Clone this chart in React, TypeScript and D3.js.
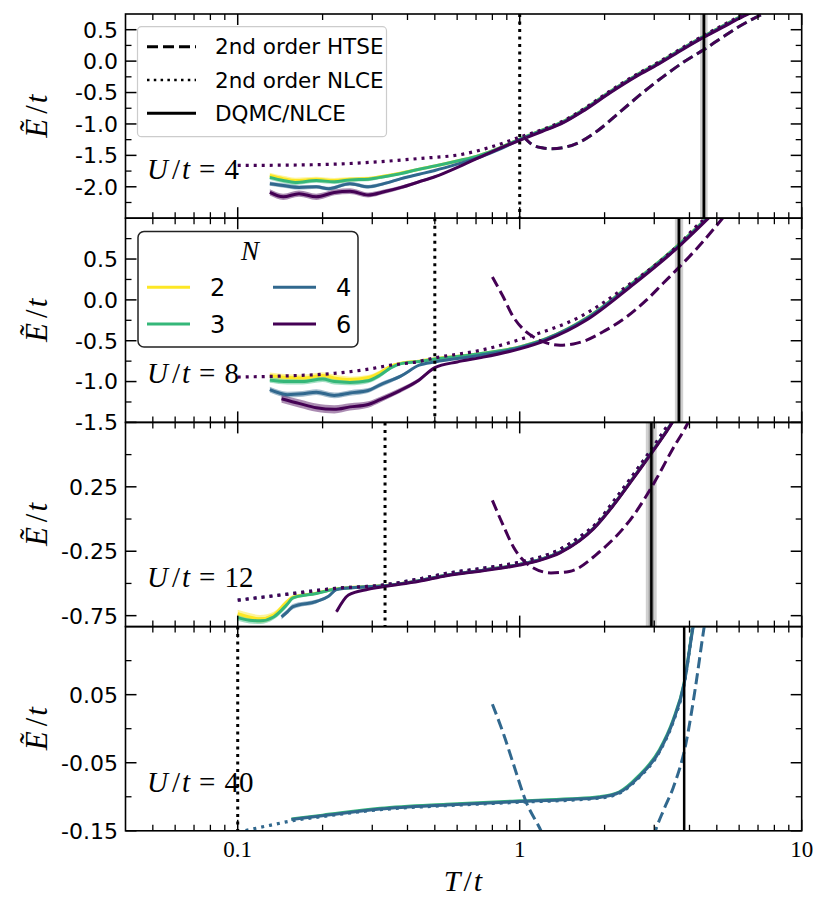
import React from 'react';
import * as d3 from 'd3';

// ---------- shared axis data ----------
const X_DOMAIN: [number, number] = [0.04, 10];
const X_MAJOR = [0.1, 1, 10];
const X_MAJOR_LABELS = ['0.1', '1', '10'];
const X_MINOR = [0.05, 0.06, 0.07, 0.08, 0.09, 0.2, 0.3, 0.4, 0.5, 0.6, 0.7, 0.8, 0.9, 2, 3, 4, 5, 6, 7, 8, 9];

const N_VALUES = [2, 3, 4, 6];
const N_COLORS = ['#fde725', '#35b779', '#31688e', '#440154'];
const U_VALUES = [4, 8, 12, 40];

// ---------- U/t = 4 ----------
const U4_Y_DOMAIN = [-2.5, 0.75];
const U4_Y_MAJOR = [0.5, 0.0, -0.5, -1.0, -1.5, -2.0];
const U4_Y_LABELS = ['0.5', '0.0', '-0.5', '-1.0', '-1.5', '-2.0'];
const U4_Y_MINOR = [0.25, -0.25, -0.75, -1.25, -1.75, -2.25];
const U4_HIGH = [[1.2, -1.1, 0], [1.4, -0.98, 0], [1.7, -0.76, 0], [2.1, -0.48, 0], [2.6, -0.22, 0], [3.1, -0.03, 0], [3.8, 0.21, 0], [4.5, 0.4, 0], [5.3, 0.57, 0], [6.2, 0.73, 0], [7.2, 0.87, 0]];
const U4_N2 = [[0.13, -1.82, 0.045], [0.145, -1.87, 0.045], [0.16, -1.9, 0.045], [0.19, -1.88, 0.04], [0.22, -1.9, 0.04], [0.25, -1.88, 0.035], [0.29, -1.87, 0.03], [0.32, -1.84, 0.025], [0.38, -1.78, 0.02], [0.44, -1.72, 0.015], [0.5, -1.67, 0.01], [0.6, -1.59, 0.005], [0.72, -1.5, 0], [0.85, -1.38, 0], [1.0, -1.24, 0], ...U4_HIGH];
const U4_N3 = [[0.13, -1.85, 0.04], [0.145, -1.9, 0.04], [0.16, -1.93, 0.04], [0.19, -1.9, 0.035], [0.22, -1.92, 0.035], [0.25, -1.89, 0.03], [0.29, -1.88, 0.03], [0.32, -1.85, 0.025], [0.38, -1.79, 0.02], [0.44, -1.72, 0.015], [0.5, -1.67, 0.01], [0.6, -1.59, 0.005], [0.72, -1.5, 0], [0.85, -1.38, 0], [1.0, -1.24, 0], ...U4_HIGH];
const U4_N4 = [[0.13, -1.95, 0.035], [0.145, -1.98, 0.035], [0.165, -2.01, 0.035], [0.19, -2.0, 0.03], [0.21, -2.03, 0.03], [0.25, -1.95, 0.03], [0.29, -2.0, 0.03], [0.33, -1.95, 0.025], [0.38, -1.87, 0.02], [0.44, -1.8, 0.015], [0.5, -1.74, 0.01], [0.6, -1.64, 0.005], [0.72, -1.53, 0], [0.85, -1.4, 0], [1.0, -1.25, 0], [1.2, -1.11, 0], [1.4, -0.99, 0], [1.7, -0.77, 0], [2.1, -0.49, 0], [2.6, -0.23, 0], [3.1, -0.04, 0], [3.8, 0.2, 0], [4.5, 0.39, 0], [5.3, 0.56, 0], [6.2, 0.72, 0], [7.2, 0.86, 0]];
const U4_N6 = [[0.13, -2.09, 0.05], [0.145, -2.16, 0.05], [0.165, -2.11, 0.05], [0.19, -2.16, 0.05], [0.22, -2.09, 0.045], [0.25, -2.07, 0.045], [0.29, -2.13, 0.04], [0.33, -2.08, 0.035], [0.38, -2.01, 0.03], [0.44, -1.92, 0.025], [0.5, -1.84, 0.02], [0.63, -1.65, 0.01], [0.8, -1.44, 0.005], [1.0, -1.26, 0], [1.2, -1.12, 0], [1.4, -1.0, 0], [1.7, -0.78, 0], [2.1, -0.5, 0], [2.6, -0.24, 0], [3.1, -0.05, 0], [3.8, 0.19, 0], [4.5, 0.38, 0], [5.3, 0.55, 0], [6.2, 0.71, 0], [7.2, 0.85, 0]];
const U4_NLCE = [[0.1, -1.66], [0.15, -1.655], [0.22, -1.64], [0.32, -1.6], [0.44, -1.55], [0.63, -1.48], [0.8, -1.36], [1.0, -1.21], [1.2, -1.09], [1.4, -0.97], [1.7, -0.75], [2.1, -0.47], [2.6, -0.21], [3.1, -0.02], [3.8, 0.22], [4.5, 0.41], [5.3, 0.58], [6.2, 0.74], [7.2, 0.88]];
const U4_HTSE = [[1.03, -1.2], [1.1, -1.32], [1.2, -1.38], [1.3, -1.395], [1.45, -1.37], [1.63, -1.29], [1.9, -1.1], [2.28, -0.8], [2.7, -0.52], [3.22, -0.25], [3.8, -0.02], [4.47, 0.175], [5.2, 0.37], [6.0, 0.55], [7.5, 0.78]];
const U4_DOTTED_T = 1.0;
const U4_SOLID_T = 4.5;
const U4_SOLID_BAND = [4.36, 4.64];

// ---------- U/t = 8 ----------
const U8_Y_DOMAIN = [-1.5, 1.0];
const U8_Y_MAJOR = [0.5, 0.0, -0.5, -1.0, -1.5];
const U8_Y_LABELS = ['0.5', '0.0', '-0.5', '-1.0', '-1.5'];
const U8_Y_MINOR = [0.75, 0.25, -0.25, -0.75, -1.25];
const U8_HIGH = [[0.72, -0.66, 0], [1.0, -0.575, 0], [1.24, -0.475, 0], [1.72, -0.225, 0], [2.47, 0.185, 0], [3.5, 0.615, 0], [4.7, 1.03, 0]];
const U8_N2 = [[0.13, -0.93, 0.04], [0.15, -0.95, 0.04], [0.17, -0.955, 0.04], [0.2, -0.925, 0.04], [0.22, -0.955, 0.04], [0.25, -0.975, 0.035], [0.29, -0.95, 0.03], [0.32, -0.89, 0.03], [0.35, -0.81, 0.02], [0.38, -0.775, 0.01], [0.44, -0.75, 0.005], [0.5, -0.72, 0], ...U8_HIGH];
const U8_N3 = [[0.13, -0.98, 0.035], [0.15, -1.0, 0.035], [0.17, -1.0, 0.035], [0.2, -0.97, 0.035], [0.22, -1.0, 0.035], [0.25, -1.01, 0.035], [0.29, -0.99, 0.03], [0.32, -0.92, 0.03], [0.35, -0.83, 0.02], [0.38, -0.78, 0.01], [0.44, -0.755, 0.005], [0.5, -0.725, 0], ...U8_HIGH];
const U8_N4 = [[0.13, -1.1, 0.035], [0.15, -1.16, 0.035], [0.17, -1.15, 0.035], [0.19, -1.13, 0.035], [0.22, -1.17, 0.035], [0.25, -1.14, 0.035], [0.29, -1.11, 0.03], [0.32, -1.04, 0.03], [0.38, -0.93, 0.02], [0.44, -0.8, 0.01], [0.5, -0.76, 0.005], [0.72, -0.68, 0], [1.0, -0.585, 0], [1.24, -0.48, 0], [1.72, -0.235, 0], [2.47, 0.175, 0], [3.5, 0.6, 0], [4.7, 1.02, 0]];
const U8_N6 = [[0.143, -1.21, 0.05], [0.166, -1.27, 0.05], [0.19, -1.32, 0.05], [0.22, -1.34, 0.05], [0.25, -1.31, 0.045], [0.29, -1.28, 0.04], [0.32, -1.22, 0.035], [0.376, -1.11, 0.03], [0.44, -0.98, 0.025], [0.5, -0.83, 0.01], [0.6, -0.76, 0], [0.72, -0.71, 0], [1.0, -0.6, 0], [1.24, -0.495, 0], [1.72, -0.25, 0], [2.47, 0.16, 0], [3.5, 0.59, 0], [4.7, 1.01, 0]];
const U8_NLCE = [[0.1, -0.945], [0.15, -0.93], [0.22, -0.9], [0.3, -0.84], [0.347, -0.8], [0.43, -0.76], [0.5, -0.71], [0.72, -0.62], [1.12, -0.43], [1.63, -0.21], [2.47, 0.2], [3.5, 0.61], [4.47, 0.975], [5.0, 1.1]];
const U8_HTSE = [[0.8, 0.28], [0.87, 0.05], [0.95, -0.21], [1.03, -0.36], [1.12, -0.455], [1.25, -0.53], [1.39, -0.555], [1.55, -0.54], [1.72, -0.495], [2.0, -0.38], [2.39, -0.21], [2.8, -0.01], [3.22, 0.2], [3.7, 0.41], [4.2, 0.61], [5.3, 1.02]];
const U8_DOTTED_T = 0.5;
const U8_SOLID_T = 3.67;
const U8_SOLID_BAND = [3.55, 3.8];

// ---------- U/t = 12 ----------
const U12_Y_DOMAIN = [-0.835, 0.75];
const U12_Y_MAJOR = [0.25, -0.25, -0.75];
const U12_Y_LABELS = ['0.25', '-0.25', '-0.75'];
const U12_Y_MINOR = [0.5, 0.0, -0.5];
const U12_HIGH = [[0.44, -0.478, 0], [0.55, -0.436, 0], [0.75, -0.395, 0], [1.0, -0.352, 0], [1.2, -0.31, 0], [1.39, -0.257, 0], [1.63, -0.165, 0], [1.83, -0.07, 0], [2.14, 0.105, 0], [2.5, 0.305, 0], [2.93, 0.515, 0], [3.5, 0.765, 0], [3.7, 0.86, 0]];
const U12_N2 = [[0.1, -0.735, 0.03], [0.11, -0.76, 0.03], [0.12, -0.775, 0.03], [0.134, -0.745, 0.025], [0.15, -0.64, 0.02], [0.157, -0.607, 0.015], [0.19, -0.575, 0.01], [0.218, -0.545, 0.01], [0.256, -0.53, 0.005], [0.333, -0.515, 0], ...U12_HIGH];
const U12_N3 = [[0.1, -0.765, 0.025], [0.11, -0.785, 0.025], [0.12, -0.79, 0.025], [0.134, -0.76, 0.02], [0.15, -0.66, 0.02], [0.157, -0.612, 0.015], [0.19, -0.578, 0.01], [0.218, -0.547, 0.01], [0.256, -0.532, 0.005], [0.333, -0.517, 0], ...U12_HIGH];
const U12_N4 = [[0.143, -0.76, 0.02], [0.15, -0.72, 0.02], [0.157, -0.68, 0.02], [0.19, -0.64, 0.015], [0.21, -0.6, 0.01], [0.224, -0.548, 0.01], [0.256, -0.533, 0.005], [0.333, -0.518, 0], ...U12_HIGH];
const U12_N6 = [[0.224, -0.72, 0.01], [0.247, -0.59, 0.005], [0.29, -0.545, 0], [0.333, -0.523, 0], [0.44, -0.483, 0], [0.55, -0.44, 0], [0.75, -0.4, 0], [1.0, -0.357, 0], [1.2, -0.315, 0], [1.39, -0.262, 0], [1.63, -0.17, 0], [1.83, -0.075, 0], [2.14, 0.1, 0], [2.5, 0.3, 0], [2.93, 0.51, 0], [3.5, 0.76, 0], [3.7, 0.855, 0]];
const U12_NLCE = [[0.1, -0.63], [0.157, -0.578], [0.218, -0.54], [0.333, -0.51], [0.44, -0.465], [0.55, -0.422], [0.75, -0.38], [1.0, -0.335], [1.39, -0.235], [1.63, -0.14], [1.87, -0.035], [2.14, 0.13], [2.5, 0.33], [2.93, 0.54], [3.5, 0.79]];
const U12_HTSE = [[0.8, 0.145], [0.87, -0.04], [0.95, -0.217], [1.08, -0.36], [1.29, -0.418], [1.5, -0.407], [1.91, -0.258], [2.53, 0.027], [3.05, 0.31], [3.5, 0.55], [3.88, 0.714], [4.0, 0.77]];
const U12_DOTTED_T = 0.333;
const U12_SOLID_T = 2.93;
const U12_SOLID_BAND = [2.8, 3.06];

// ---------- U/t = 40 ----------
const U40_Y_DOMAIN = [-0.15, 0.15];
const U40_Y_MAJOR = [0.05, -0.05, -0.15];
const U40_Y_LABELS = ['0.05', '-0.05', '-0.15'];
const U40_Y_MINOR = [0.1, 0.0, -0.1];
const U40_N3 = [[0.155, -0.1325, 0], [0.2, -0.127, 0], [0.32, -0.117, 0], [0.55, -0.111, 0], [1.0, -0.106, 0], [1.5, -0.103, 0], [1.91, -0.1, 0], [2.25, -0.093, 0], [2.63, -0.07, 0], [3.13, -0.031, 0], [3.5, 0.013, 0], [3.83, 0.068, 0], [4.1, 0.146, 0], [4.2, 0.17, 0]];
const U40_N4 = [[0.155, -0.1335, 0], [0.2, -0.128, 0], [0.32, -0.118, 0], [0.55, -0.112, 0], [1.0, -0.107, 0], [1.5, -0.104, 0], [1.91, -0.101, 0], [2.25, -0.094, 0], [2.63, -0.072, 0], [3.13, -0.033, 0], [3.5, 0.011, 0], [3.83, 0.066, 0], [4.1, 0.144, 0], [4.2, 0.17, 0]];
const U40_NLCE = [[0.1, -0.152], [0.13, -0.142], [0.157, -0.135], [0.2, -0.129], [0.32, -0.119], [0.55, -0.113], [1.0, -0.108], [1.91, -0.102], [2.25, -0.095], [2.63, -0.073], [3.13, -0.034], [3.5, 0.01], [3.83, 0.065], [4.1, 0.15]];
const U40_HTSE_LOW = [[0.8, 0.036], [0.88, -0.01], [0.95, -0.052], [1.05, -0.106], [1.19, -0.15], [1.22, -0.16]];
const U40_HTSE_HIGH = [[2.98, -0.16], [3.03, -0.15], [3.25, -0.118], [3.5, -0.087], [3.88, -0.023], [4.2, 0.061], [4.47, 0.139], [4.55, 0.16]];
const U40_DOTTED_T = 0.1;
const U40_SOLID_T = 3.83;

// ---------- legend texts ----------
const LEGEND_METHODS = ['2nd order HTSE', '2nd order NLCE', 'DQMC/NLCE'];

const SERIF = "'Liberation Serif', 'DejaVu Serif', serif";
const SANS = "'DejaVu Sans', 'Liberation Sans', sans-serif";

type Series = { ci: number; data: number[][] };
type PanelDef = {
  u: number;
  yDomain: number[];
  yMajor: number[];
  yLabels: string[];
  yMinor: number[];
  dqmc: Series[];
  nlce: Series[];
  htse: Series[];
  dottedT: number;
  solidT: number;
  band: number[] | null;
};

const PANELS: PanelDef[] = [
  {
    u: U_VALUES[0], yDomain: U4_Y_DOMAIN, yMajor: U4_Y_MAJOR, yLabels: U4_Y_LABELS, yMinor: U4_Y_MINOR,
    dqmc: [{ ci: 0, data: U4_N2 }, { ci: 1, data: U4_N3 }, { ci: 2, data: U4_N4 }, { ci: 3, data: U4_N6 }],
    nlce: [{ ci: 3, data: U4_NLCE }],
    htse: [{ ci: 1, data: U4_HTSE }, { ci: 3, data: U4_HTSE }],
    dottedT: U4_DOTTED_T, solidT: U4_SOLID_T, band: U4_SOLID_BAND,
  },
  {
    u: U_VALUES[1], yDomain: U8_Y_DOMAIN, yMajor: U8_Y_MAJOR, yLabels: U8_Y_LABELS, yMinor: U8_Y_MINOR,
    dqmc: [{ ci: 0, data: U8_N2 }, { ci: 1, data: U8_N3 }, { ci: 2, data: U8_N4 }, { ci: 3, data: U8_N6 }],
    nlce: [{ ci: 3, data: U8_NLCE }],
    htse: [{ ci: 3, data: U8_HTSE }],
    dottedT: U8_DOTTED_T, solidT: U8_SOLID_T, band: U8_SOLID_BAND,
  },
  {
    u: U_VALUES[2], yDomain: U12_Y_DOMAIN, yMajor: U12_Y_MAJOR, yLabels: U12_Y_LABELS, yMinor: U12_Y_MINOR,
    dqmc: [{ ci: 0, data: U12_N2 }, { ci: 1, data: U12_N3 }, { ci: 2, data: U12_N4 }, { ci: 3, data: U12_N6 }],
    nlce: [{ ci: 2, data: U12_NLCE }, { ci: 3, data: U12_NLCE }],
    htse: [{ ci: 3, data: U12_HTSE }],
    dottedT: U12_DOTTED_T, solidT: U12_SOLID_T, band: U12_SOLID_BAND,
  },
  {
    u: U_VALUES[3], yDomain: U40_Y_DOMAIN, yMajor: U40_Y_MAJOR, yLabels: U40_Y_LABELS, yMinor: U40_Y_MINOR,
    dqmc: [{ ci: 1, data: U40_N3 }, { ci: 2, data: U40_N4 }],
    nlce: [{ ci: 2, data: U40_NLCE }],
    htse: [{ ci: 2, data: U40_HTSE_LOW }, { ci: 2, data: U40_HTSE_HIGH }],
    dottedT: U40_DOTTED_T, solidT: U40_SOLID_T, band: null,
  },
];

const W = 830;
const H = 918;
const L = 125.5;
const R = 801.7;
const TOP = 14;
const PH = 204.2;

export default function App() {
  const x = d3.scaleLog().domain(X_DOMAIN).range([L, R]);

  return (
    <svg width={W} height={H} style={{ position: 'absolute', left: 0, top: 0, background: '#fff' }}>
      <rect width={W} height={H} fill="#fff" />
      {PANELS.map((p, i) => {
        const top = TOP + i * PH;
        const bot = top + PH;
        const y = d3.scaleLinear().domain(p.yDomain).range([bot, top]);
        const line = d3.line<number[]>().x(d => x(d[0])).y(d => y(d[1])).curve(d3.curveMonotoneX);
        const area = d3.area<number[]>()
          .x(d => x(d[0]))
          .y0(d => y(d[1] - (d[2] || 0)))
          .y1(d => y(d[1] + (d[2] || 0)))
          .curve(d3.curveMonotoneX);
        const cid = `clip${i}`;
        return (
          <g key={i}>
            <defs>
              <clipPath id={cid}>
                <rect x={L} y={top} width={R - L} height={PH} />
              </clipPath>
            </defs>
            <g clipPath={`url(#${cid})`}>
              {p.band && (
                <g>
                  <rect x={x(p.band[0])} y={top} width={x(p.band[1]) - x(p.band[0])} height={PH} fill="#000" opacity={0.18} />
                  <rect x={(x(p.band[0]) + x(p.solidT)) / 2} y={top} width={(x(p.band[1]) - x(p.band[0])) / 2} height={PH} fill="#000" opacity={0.22} />
                </g>
              )}
              {p.dqmc.map((s, k) => (
                <path key={'b' + k} d={area(s.data) || ''} fill={N_COLORS[s.ci]} opacity={0.45} />
              ))}
              {p.dqmc.map((s, k) => (
                <path key={'s' + k} d={line(s.data) || ''} fill="none" stroke={N_COLORS[s.ci]} strokeWidth={3} strokeLinejoin="round" />
              ))}
              {p.nlce.map((s, k) => (
                <path key={'n' + k} d={line(s.data) || ''} fill="none" stroke={N_COLORS[s.ci]} strokeWidth={3.2} strokeDasharray="3,5" />
              ))}
              {p.htse.map((s, k) => (
                <path key={'h' + k} d={line(s.data) || ''} fill="none" stroke={N_COLORS[s.ci]} strokeWidth={3} strokeDasharray="11,5" />
              ))}
              <line x1={x(p.dottedT)} x2={x(p.dottedT)} y1={top} y2={bot} stroke="#000" strokeWidth={3} strokeDasharray="3,4.5" />
              <line x1={x(p.solidT)} x2={x(p.solidT)} y1={top} y2={bot} stroke="#000" strokeWidth={2.5} />
            </g>
            <rect x={L} y={top} width={R - L} height={PH} fill="none" stroke="#000" strokeWidth={1.6} />
            {/* x ticks */}
            {X_MAJOR.map(v => (
              <g key={'xm' + v}>
                <line x1={x(v)} x2={x(v)} y1={bot} y2={bot - 11} stroke="#000" strokeWidth={1.5} />
                <line x1={x(v)} x2={x(v)} y1={top} y2={top + 11} stroke="#000" strokeWidth={1.5} />
              </g>
            ))}
            {X_MINOR.map(v => (
              <g key={'xn' + v}>
                <line x1={x(v)} x2={x(v)} y1={bot} y2={bot - 6} stroke="#000" strokeWidth={1.3} />
                <line x1={x(v)} x2={x(v)} y1={top} y2={top + 6} stroke="#000" strokeWidth={1.3} />
              </g>
            ))}
            {/* y ticks */}
            {p.yMajor.map(v => (
              <g key={'ym' + v}>
                <line x1={L} x2={L + 11} y1={y(v)} y2={y(v)} stroke="#000" strokeWidth={1.5} />
                <line x1={R} x2={R - 11} y1={y(v)} y2={y(v)} stroke="#000" strokeWidth={1.5} />
              </g>
            ))}
            {p.yMinor.map(v => (
              <g key={'yn' + v}>
                <line x1={L} x2={L + 6} y1={y(v)} y2={y(v)} stroke="#000" strokeWidth={1.3} />
                <line x1={R} x2={R - 6} y1={y(v)} y2={y(v)} stroke="#000" strokeWidth={1.3} />
              </g>
            ))}
            {p.yMajor.map((v, k) => (
              <text key={'yl' + v} x={118} y={y(v)} dy="0.36em" textAnchor="end" fontFamily={SANS} fontSize={22} fill="#000">
                {p.yLabels[k]}
              </text>
            ))}
            {/* y label */}
            <text transform={`translate(47,${top + PH / 2}) rotate(-90)`} textAnchor="middle" fontFamily={SERIF} fontSize={31} fill="#000">
              <tspan fontStyle="italic">Ẽ</tspan>
              <tspan dx={5}>/</tspan>
              <tspan dx={2} fontStyle="italic">t</tspan>
            </text>
            {/* panel title */}
            <text x={147} y={top + 165} fontFamily={SERIF} fontSize={29} fill="#000">
              <tspan fontStyle="italic">U</tspan>
              <tspan dx={4}>/</tspan>
              <tspan dx={2} fontStyle="italic">t</tspan>
              <tspan dx={9}>=</tspan>
              <tspan dx={9}>{String(p.u)}</tspan>
            </text>
          </g>
        );
      })}

      {/* x tick labels */}
      {X_MAJOR.map((v, k) => (
        <text key={'xl' + v} x={x(v)} y={857} textAnchor="middle" fontFamily={SERIF} fontSize={23} fill="#000">
          {X_MAJOR_LABELS[k]}
        </text>
      ))}
      <text x={463} y={891} textAnchor="middle" fontFamily={SERIF} fontSize={30} fill="#000">
        <tspan fontStyle="italic">T</tspan>
        <tspan dx={3}>/</tspan>
        <tspan dx={2} fontStyle="italic">t</tspan>
      </text>

      {/* legend 1: methods */}
      <g>
        <rect x={137.5} y={26.7} width={249} height={110} rx={4} fill="#fff" fillOpacity={0.85} stroke="#cccccc" strokeWidth={1.2} />
        {LEGEND_METHODS.map((m, k) => {
          const ly = 46.7 + k * 33.3;
          const dash = k === 0 ? '11,5' : k === 1 ? '2.5,4.3' : undefined;
          return (
            <g key={m}>
              <line x1={147} x2={196} y1={ly} y2={ly} stroke="#000" strokeWidth={k === 1 ? 2.5 : 3} strokeDasharray={dash} />
              <text x={215} y={ly + 7.5} fontFamily={SANS} fontSize={21.5} fill="#000">{m}</text>
            </g>
          );
        })}
      </g>

      {/* legend 2: N */}
      <g>
        <rect x={138} y={231.5} width={220} height={115.5} rx={6} fill="#fff" stroke="#222" strokeWidth={1.5} />
        <text x={250} y={260} textAnchor="middle" fontFamily={SERIF} fontStyle="italic" fontSize={27} fill="#000">N</text>
        {N_VALUES.map((n, k) => {
          const col = Math.floor(k / 2);
          const row = k % 2;
          const lx = 147 + col * 126;
          const ly = 287.3 + row * 36.7;
          return (
            <g key={'leg' + n}>
              <line x1={lx} x2={lx + 43} y1={ly} y2={ly} stroke={N_COLORS[k]} strokeWidth={3} />
              <text x={lx + 63} y={ly + 9} fontFamily={SANS} fontSize={24} fill="#000">{String(n)}</text>
            </g>
          );
        })}
      </g>
    </svg>
  );
}
